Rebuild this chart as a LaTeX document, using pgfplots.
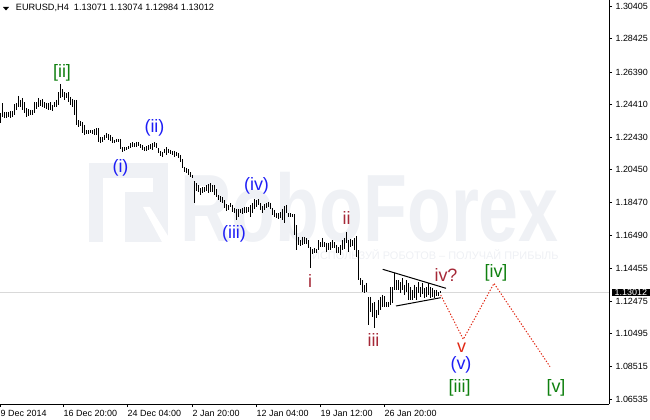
\documentclass[border=0pt]{standalone}
\usepackage{fontspec}
\setmainfont{Liberation Sans}
\usepackage{pgfplots}
\usepackage{pgfplotstable}
\pgfplotsset{compat=1.18}
\definecolor{wblue}{RGB}{30,30,245}
\definecolor{wgreen}{RGB}{15,128,15}
\definecolor{wbrown}{RGB}{165,40,55}
\definecolor{wred}{RGB}{225,40,20}
\definecolor{wm}{RGB}{239,241,245}
\definecolor{wmt}{RGB}{238,240,244}
\newcommand{\lbl}{\fontsize{18}{18}\selectfont}
\newcommand{\tks}{\fontsize{9}{9}\selectfont}

\pgfplotstableread{
x h l
0 1.2391 1.2330
2 1.2451 1.2366
4 1.2397 1.2360
6 1.2397 1.2360
8 1.2397 1.2366
10 1.2403 1.2360
12 1.2403 1.2366
14 1.2445 1.2378
16 1.2451 1.2409
18 1.2494 1.2427
20 1.2470 1.2427
22 1.2482 1.2409
24 1.2457 1.2391
26 1.2421 1.2366
28 1.2415 1.2372
30 1.2409 1.2378
32 1.2409 1.2378
34 1.2457 1.2391
36 1.2457 1.2415
38 1.2482 1.2427
40 1.2470 1.2433
42 1.2476 1.2427
44 1.2457 1.2421
46 1.2451 1.2415
48 1.2451 1.2409
50 1.2457 1.2409
52 1.2439 1.2403
54 1.2457 1.2427
56 1.2470 1.2427
58 1.2518 1.2439
60 1.2567 1.2482
62 1.2536 1.2488
64 1.2518 1.2470
66 1.2512 1.2482
68 1.2518 1.2457
70 1.2488 1.2439
72 1.2476 1.2427
74 1.2470 1.2378
76 1.2470 1.2318
78 1.2348 1.2306
80 1.2342 1.2312
82 1.2336 1.2269
84 1.2318 1.2257
86 1.2287 1.2263
88 1.2287 1.2263
90 1.2287 1.2269
92 1.2287 1.2263
94 1.2293 1.2257
96 1.2299 1.2257
98 1.2299 1.2214
100 1.2245 1.2208
102 1.2245 1.2214
104 1.2257 1.2227
106 1.2269 1.2239
108 1.2263 1.2227
110 1.2257 1.2220
112 1.2245 1.2208
114 1.2227 1.2208
116 1.2233 1.2214
118 1.2233 1.2214
120 1.2233 1.2172
122 1.2184 1.2154
124 1.2184 1.2160
126 1.2184 1.2166
128 1.2190 1.2172
130 1.2208 1.2178
132 1.2214 1.2184
134 1.2208 1.2184
136 1.2214 1.2184
138 1.2214 1.2190
140 1.2202 1.2178
142 1.2196 1.2166
144 1.2184 1.2160
146 1.2190 1.2160
148 1.2196 1.2166
150 1.2202 1.2172
152 1.2208 1.2166
154 1.2214 1.2184
156 1.2208 1.2178
158 1.2178 1.2148
160 1.2160 1.2129
162 1.2154 1.2123
164 1.2172 1.2148
166 1.2184 1.2136
168 1.2172 1.2148
170 1.2166 1.2142
172 1.2160 1.2136
174 1.2160 1.2123
176 1.2154 1.2129
178 1.2148 1.2117
180 1.2136 1.2093
182 1.2111 1.2057
184 1.2063 1.2032
186 1.2057 1.2026
188 1.2050 1.2014
190 1.2032 1.2002
192 1.2014 1.1996
194 1.1977 1.1844
196 1.1965 1.1917
198 1.1953 1.1911
200 1.1935 1.1893
202 1.1941 1.1905
204 1.1941 1.1911
206 1.1953 1.1917
208 1.1959 1.1905
210 1.1965 1.1911
212 1.1953 1.1911
214 1.1953 1.1893
216 1.1929 1.1880
218 1.1893 1.1862
220 1.1887 1.1850
222 1.1880 1.1844
224 1.1862 1.1814
226 1.1838 1.1795
228 1.1832 1.1801
230 1.1844 1.1820
232 1.1832 1.1789
234 1.1814 1.1783
236 1.1808 1.1741
238 1.1808 1.1759
240 1.1808 1.1783
242 1.1814 1.1777
244 1.1820 1.1783
246 1.1820 1.1783
248 1.1820 1.1789
250 1.1832 1.1759
252 1.1844 1.1783
254 1.1868 1.1808
256 1.1862 1.1820
258 1.1868 1.1832
260 1.1844 1.1802
262 1.1826 1.1783
264 1.1838 1.1802
266 1.1844 1.1814
268 1.1850 1.1820
270 1.1844 1.1808
272 1.1814 1.1771
274 1.1802 1.1759
276 1.1783 1.1753
278 1.1783 1.1747
280 1.1789 1.1753
282 1.1808 1.1741
284 1.1826 1.1723
286 1.1832 1.1783
288 1.1783 1.1759
290 1.1783 1.1759
292 1.1777 1.1759
294 1.1777 1.1650
296 1.1710 1.1558
298 1.1638 1.1589
300 1.1619 1.1583
302 1.1638 1.1589
304 1.1638 1.1595
306 1.1632 1.1595
308 1.1619 1.1571
310 1.1577 1.1449
312 1.1565 1.1534
314 1.1571 1.1540
316 1.1565 1.1540
318 1.1619 1.1558
320 1.1607 1.1577
322 1.1632 1.1577
324 1.1607 1.1577
326 1.1601 1.1546
328 1.1601 1.1558
330 1.1607 1.1558
332 1.1619 1.1571
334 1.1607 1.1571
336 1.1589 1.1540
338 1.1577 1.1540
340 1.1589 1.1528
342 1.1619 1.1558
344 1.1632 1.1565
346 1.1668 1.1601
348 1.1619 1.1546
350 1.1625 1.1577
352 1.1619 1.1583
354 1.1632 1.1558
356 1.1644 1.1516
358 1.1558 1.1376
360 1.1388 1.1346
362 1.1376 1.1303
364 1.1346 1.1297
366 1.1358 1.1303
368 1.1273 1.1103
370 1.1273 1.1182
372 1.1237 1.1152
374 1.1243 1.1085
376 1.1194 1.1146
378 1.1255 1.1164
380 1.1273 1.1194
382 1.1285 1.1212
384 1.1279 1.1212
386 1.1243 1.1212
388 1.1243 1.1212
390 1.1334 1.1224
392 1.1334 1.1237
394 1.1419 1.1316
396 1.1376 1.1316
398 1.1376 1.1316
400 1.1364 1.1297
402 1.1388 1.1316
404 1.1346 1.1285
406 1.1376 1.1303
408 1.1358 1.1255
410 1.1334 1.1255
412 1.1316 1.1255
414 1.1346 1.1267
416 1.1334 1.1255
418 1.1364 1.1297
420 1.1334 1.1273
422 1.1358 1.1291
424 1.1328 1.1267
426 1.1334 1.1273
428 1.1358 1.1285
430 1.1334 1.1267
432 1.1328 1.1273
434 1.1316 1.1267
436 1.1316 1.1279
438 1.1303 1.1279
440 1.13074 1.12984
}\bars

\begin{document}
\begin{tikzpicture}
\useasboundingbox (0bp,-16bp) rectangle (650bp,404bp);
% watermark (pixel coordinates, y downward)
\begin{scope}[x=1bp, y=-1bp, shift={(0bp,404bp)}]
  \fill[wm] (89,163) rectangle (168,242);
  \fill[white] (103,178) rectangle (153,192);
  \fill[white] (103,192) rectangle (125,242);
  \fill[white] (143,207) -- (150,207) -- (168,236) -- (168,242) -- (162,242) -- cycle;
  \node[anchor=base west, inner sep=0pt, text=wm, font=\fontsize{96}{96}\selectfont\bfseries, xscale=0.75] at (180,242) {RoboForex};
  \node[anchor=west, inner sep=0pt, text=wmt, font=\fontsize{11}{11}\selectfont] at (312,255) {ИСПОЛЬЗУЙ РОБОТОВ – ПОЛУЧАЙ ПРИБЫЛЬ};
\end{scope}
\begin{axis}[
  at={(0bp,0bp)}, anchor=south west,
  scale only axis, width=609bp, height=404bp,
  xmin=-0.5, xmax=608.5, ymin=1.062305, ymax=1.307694,
  axis x line*=bottom, axis y line*=right,
  axis line style={black, line width=1bp, -},
  clip=false,
  xtick={0,63,127,192,256,320,384},
  xticklabels={9 Dec 2014,16 Dec 20:00,24 Dec 04:00,2 Jan 20:00,12 Jan 04:00,19 Jan 12:00,26 Jan 20:00},
  ytick={1.30405,1.28425,1.26390,1.24410,1.22430,1.20450,1.18470,1.16490,1.14455,1.12475,1.10495,1.08515,1.06535},
  yticklabels={1.30405,1.28425,1.26390,1.24410,1.22430,1.20450,1.18470,1.16490,1.14455,1.12475,1.10495,1.08515,1.06535},
  tick align=outside, major tick length=3bp,
  tick style={black, line width=0.8bp},
  ticklabel style={font=\tks},
  xticklabel style={anchor=north west, inner xsep=0pt},
  yticklabel style={anchor=west},
  /pgf/number format/assume math mode=true,
]
\addplot[black!15, line width=0.8bp] coordinates {(-0.5,1.13012) (608.5,1.13012)};
\addplot[black, line width=1bp, mark=none, quiver={u=0, v=\thisrow{l}-\thisrow{h}}]
  table[x=x, y=h] {\bars};
% triangle
\addplot[black, line width=1bp] coordinates {(382.2,1.14412) (445.5,1.13258)};
\addplot[black, line width=1bp] coordinates {(395.5,1.12183) (440.2,1.12687)};
% projected path
\addplot[wred, line width=1bp, dash pattern=on 1.3bp off 1.7bp] coordinates {(440.2,1.12851) (462.8,1.10160) (493.5,1.13562) (549.5,1.08496)};
% wave labels
\node[wgreen, font=\lbl] at (axis cs:61.5,1.26366) {[ii]};
\node[wblue, font=\lbl] at (axis cs:120,1.20565) {(i)};
\node[wblue, font=\lbl] at (axis cs:154,1.22995) {(ii)};
\node[wblue, font=\lbl] at (axis cs:233.5,1.16556) {(iii)};
\node[wblue, font=\lbl] at (axis cs:256,1.19472) {(iv)};
\node[wbrown, font=\lbl] at (axis cs:309.5,1.13671) {i};
\node[wbrown, font=\lbl] at (axis cs:346,1.17510) {ii};
\node[wbrown, font=\lbl] at (axis cs:373,1.10118) {iii};
\node[wbrown, font=\lbl] at (axis cs:445.5,1.14066) {iv?};
\node[wred, font=\lbl] at (axis cs:461,1.09632) {v};
\node[wblue, font=\lbl] at (axis cs:460.5,1.08630) {(v)};
\node[wgreen, font=\lbl] at (axis cs:459.2,1.07214) {[iii]};
\node[wgreen, font=\lbl] at (axis cs:495.5,1.14218) {[iv]};
\node[wgreen, font=\lbl] at (axis cs:555.5,1.07214) {[v]};
% current price
\node[fill=black, text=white, anchor=west, inner xsep=3bp, inner ysep=0.6bp, font=\tks, xshift=2.5bp] at (axis cs:608.5,1.13012) {1.13012};
\end{axis}
\begin{scope}[x=1bp, y=-1bp, shift={(0bp,404bp)}]
  \fill (3,7) -- (9,7) -- (6,10.5) -- cycle;
  \node[anchor=base west, inner sep=0pt, font=\fontsize{9.2}{9.2}\selectfont] at (15.7,11) {EURUSD,H4\ \ 1.13071 1.13074 1.12984 1.13012};
\end{scope}
\end{tikzpicture}
\end{document}
